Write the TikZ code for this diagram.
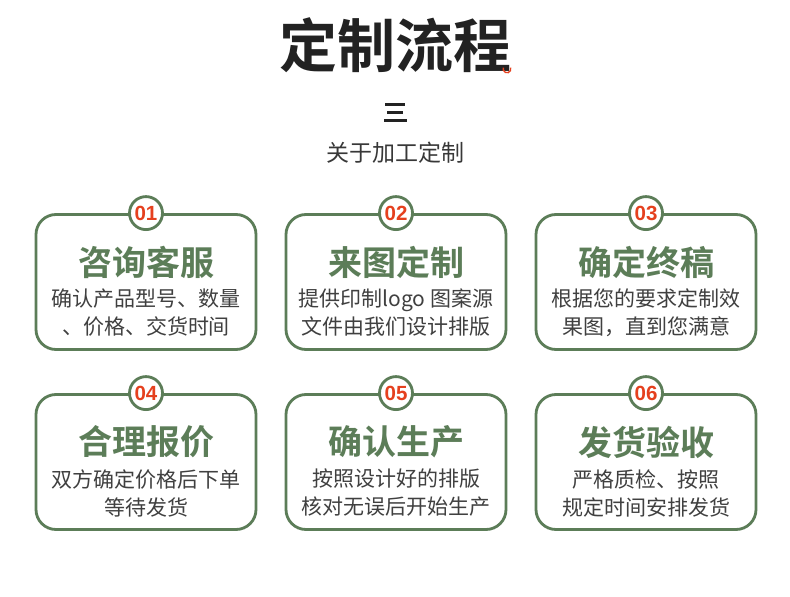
\documentclass[tikz,border=0pt]{standalone}
\usepackage{fontspec}
\newfontfamily\cjk{Noto Sans CJK SC}
\newfontfamily\cjkb{Noto Sans CJK SC Bold}
\newfontfamily\numf{Liberation Sans}
\definecolor{boxgreen}{HTML}{5C7D58}
\definecolor{numred}{HTML}{E5401E}
\definecolor{titledark}{HTML}{222222}
\definecolor{bodytxt}{HTML}{404040}
\tikzset{
  card/.style={draw=boxgreen, line width=2.8pt, rounded corners=20pt, fill=white, minimum width=220pt, minimum height=135pt},
  badge/.style={circle, draw=boxgreen, line width=2.8pt, fill=white, minimum size=33pt, inner sep=0pt, text=numred, font=\numf\bfseries\fontsize{20.5}{20.5}\selectfont},
  head/.style={text=boxgreen, font=\cjkb\fontsize{34}{34}\selectfont},
  bodyline/.style={text=bodytxt, font=\cjk\fontsize{21}{28}\selectfont, align=center},
}
\begin{document}
\begin{tikzpicture}[x=1pt,y=-1pt]
\useasboundingbox[fill=white] (0,0) rectangle (790,597);
\node[text=titledark, font=\cjkb\fontsize{58}{58}\selectfont] (title) at (395,45) {定制流程};
\coordinate (dot) at (507,69);
\draw[numred, line width=1.4pt] (dot) ++(-20:3.8) arc (-20:200:3.8);
\draw[titledark, line width=3pt] (385,104) -- (405,104) (387,112) -- (403,112) (384,120) -- (407,120);
\node[text=titledark!90, font=\cjk\fontsize{23}{23}\selectfont] (sub) at (395,153) {关于加工定制};
\node[card] (c1) at (146,282) {};
\node[card] (c2) at (396,282) {};
\node[card] (c3) at (646,282) {};
\node[card] (c4) at (146,462) {};
\node[card] (c5) at (396,462) {};
\node[card] (c6) at (646,462) {};
\node[badge] (b1) at (c1.north) {01};
\node[badge] (b2) at (c2.north) {02};
\node[badge] (b3) at (c3.north) {03};
\node[badge] (b4) at (c4.north) {04};
\node[badge] (b5) at (c5.north) {05};
\node[badge] (b6) at (c6.north) {06};
\node[head] (h1) at (146,262) {咨询客服};
\node[head] (h2) at (396,262) {来图定制};
\node[head] (h3) at (646,262) {确定终稿};
\node[head] (h4) at (146,442) {合理报价};
\node[head] (h5) at (396,442) {确认生产};
\node[head] (h6) at (646,442) {发货验收};
\node[bodyline] (t1) at (146,313) {确认产品型号、数量\\、价格、交货时间};
\node[bodyline] (t2) at (396,313) {提供印制logo 图案源\\文件由我们设计排版};
\node[bodyline] (t3) at (646,313) {根据您的要求定制效\\果图，直到您满意};
\node[bodyline] (t4) at (146,493) {双方确定价格后下单\\等待发货};
\node[bodyline] (t5) at (396,493) {按照设计好的排版\\核对无误后开始生产};
\node[bodyline] (t6) at (646,493) {严格质检、按照\\规定时间安排发货};
\end{tikzpicture}
\end{document}
